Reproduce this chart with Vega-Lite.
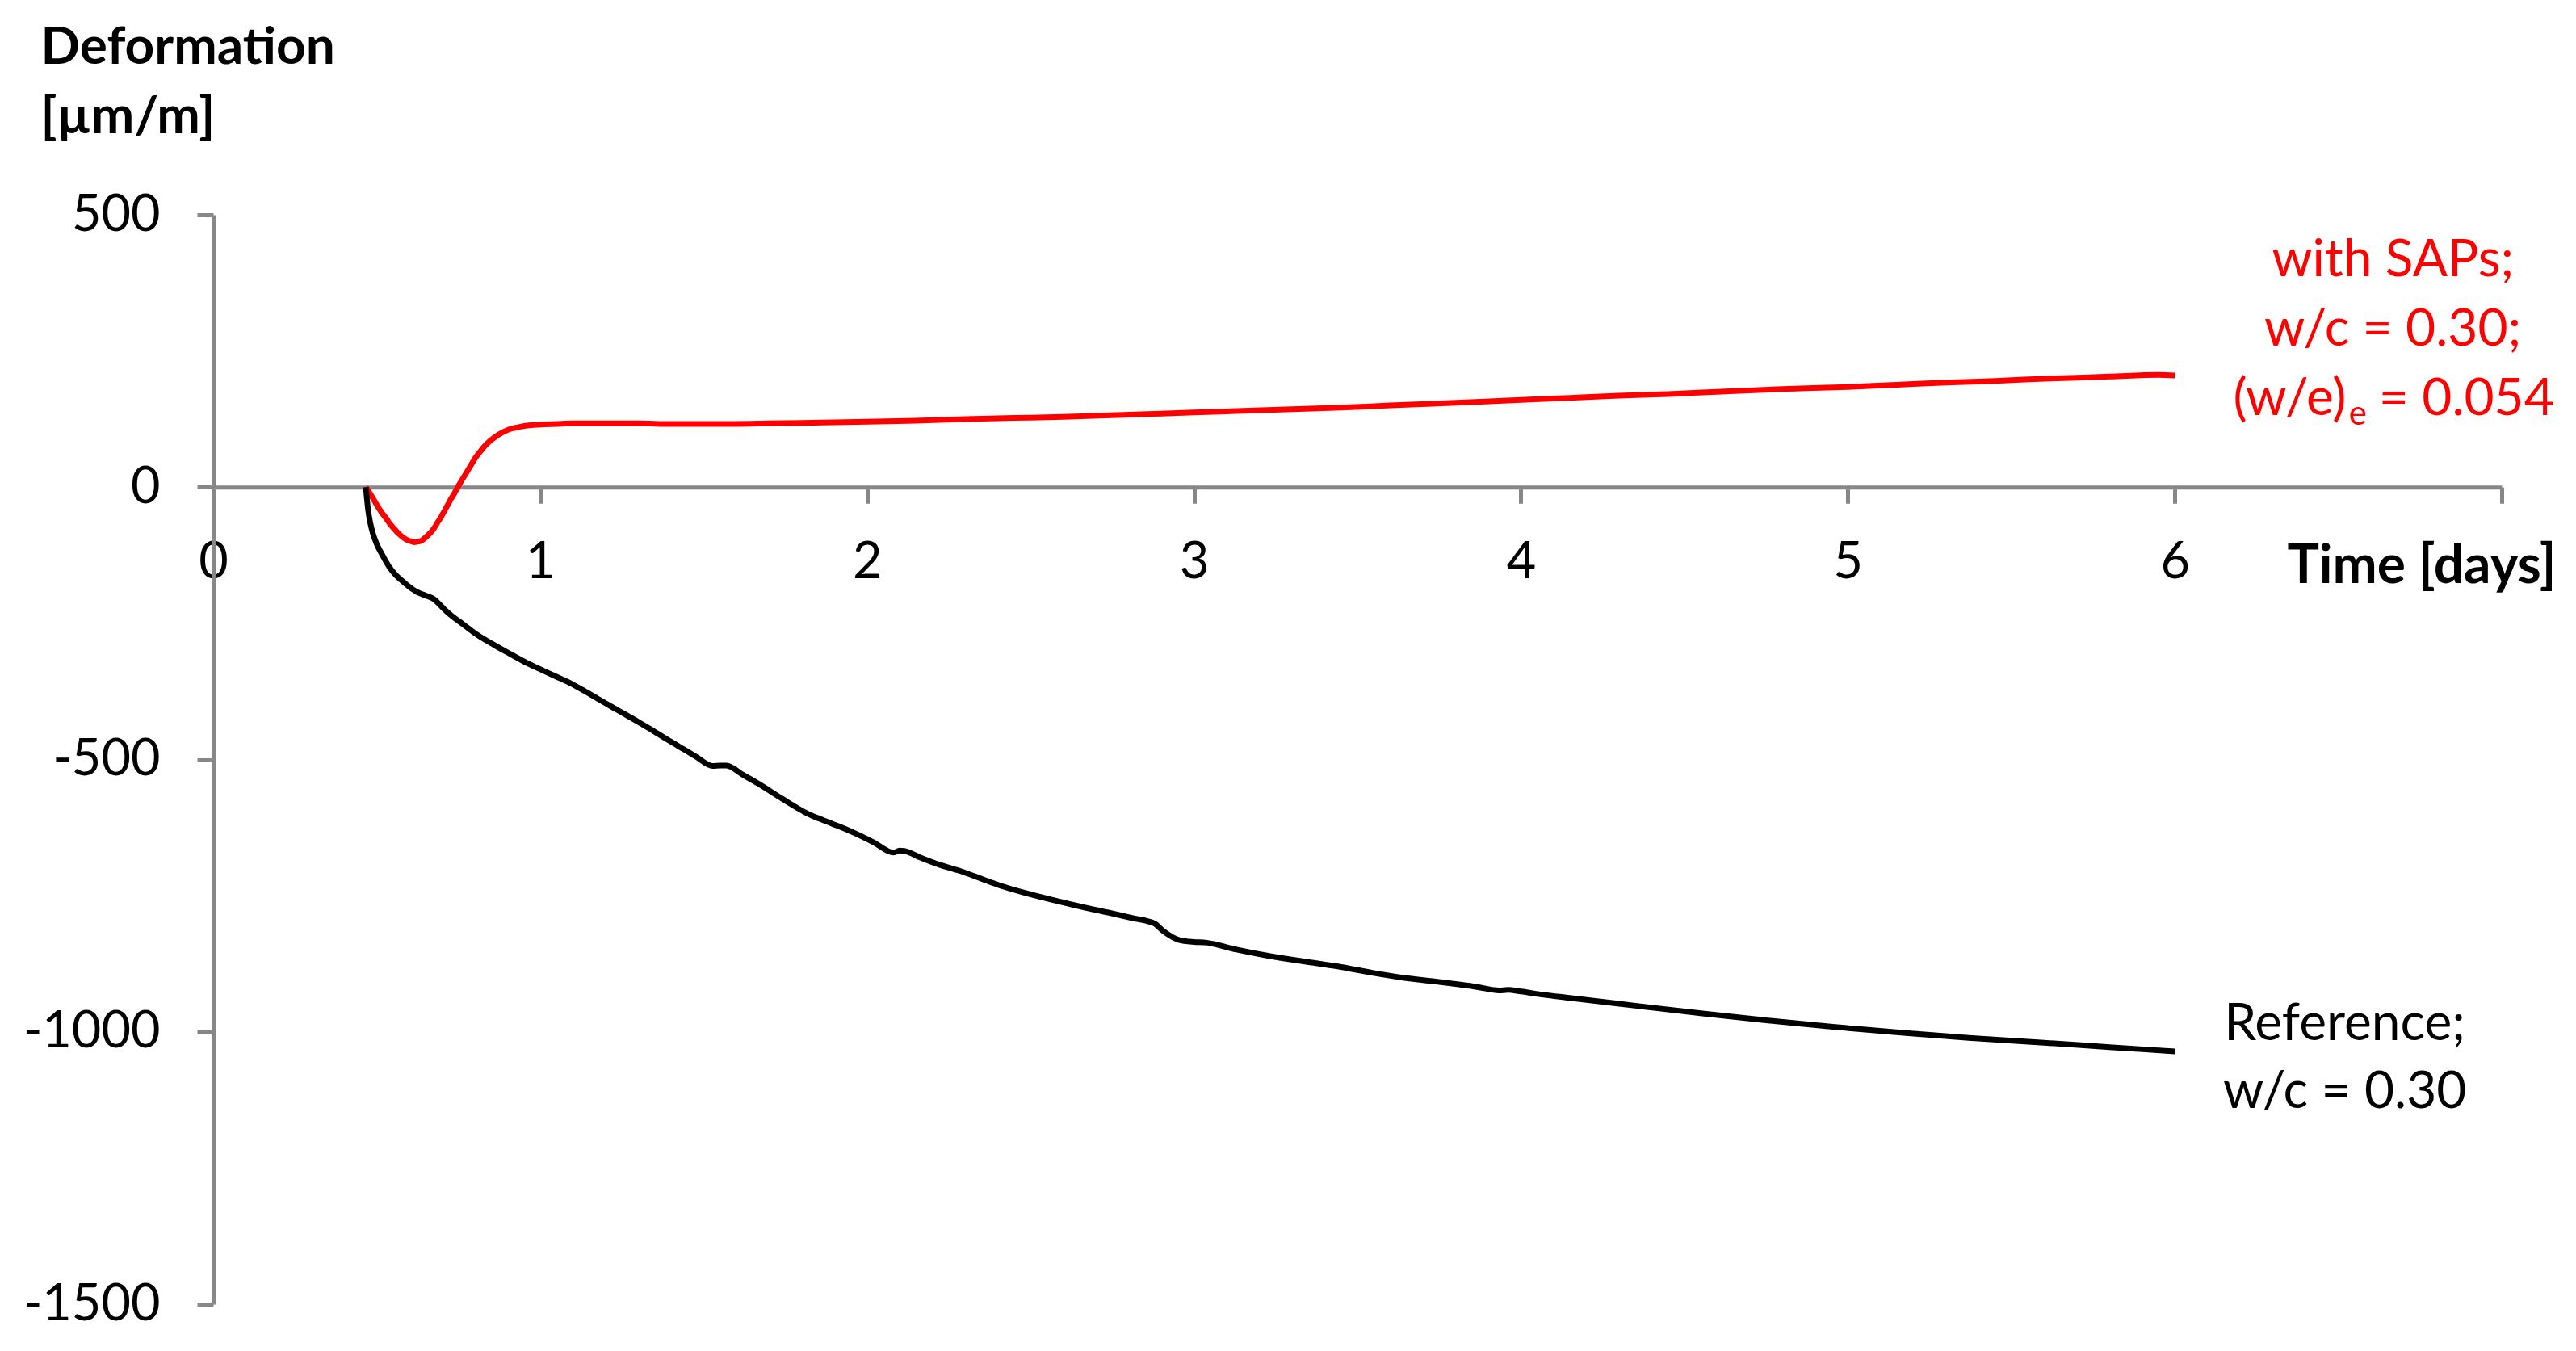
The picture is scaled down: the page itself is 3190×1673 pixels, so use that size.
{
  "$schema": "https://vega.github.io/schema/vega-lite/v6.json",
  "width": 2834,
  "height": 1349,
  "autosize": {"type": "none"},
  "padding": {"left": 264, "top": 266, "right": 92, "bottom": 58},
  "background": "white",
  "config": {"view": {"stroke": null}, "font": "Lato"},
  "encoding": {
    "x": {
      "field": "t", "type": "quantitative",
      "scale": {"domain": [0, 7], "nice": false, "zero": false},
      "axis": {
        "orient": "bottom", "offset": -1011.75,
        "values": [0, 1, 2, 3, 4, 5, 6, 7],
        "labelExpr": "datum.value == 7 ? '' : '' + datum.value",
        "domainColor": "#878787", "domainWidth": 5,
        "tickColor": "#878787", "tickWidth": 5, "tickSize": 20,
        "grid": false,
        "labelFont": "Lato", "labelFontSize": 63, "labelColor": "#000000",
        "labelPadding": 42, "labelFlush": false, "labelOverlap": false, "labelBaseline": "top",
        "title": "Time [days]", "titleFont": "Lato", "titleFontSize": 66, "titleFontWeight": "bold",
        "titleColor": "#000000", "titleAlign": "left", "titleBaseline": "alphabetic",
        "titleX": 2568, "titleY": 118
      }
    },
    "y": {
      "field": "d", "type": "quantitative",
      "scale": {"domain": [-1500, 500], "nice": false, "zero": false},
      "axis": {
        "orient": "left",
        "values": [-1500, -1000, -500, 0, 500],
        "labelExpr": "datum.value < 0 ? '-' + abs(datum.value) : '' + datum.value",
        "domainColor": "#878787", "domainWidth": 5,
        "tickColor": "#878787", "tickWidth": 5, "tickSize": 20,
        "grid": false,
        "labelFont": "Lato", "labelFontSize": 63, "labelColor": "#000000",
        "labelPadding": 46, "labelFlush": false, "labelOverlap": false,
        "title": ["Deformation", "[µm/m]"], "titleFont": "Lato", "titleFontSize": 64, "titleFontWeight": "bold",
        "titleColor": "#000000", "titleAngle": 0, "titleAlign": "left", "titleBaseline": "alphabetic",
        "titleX": -214, "titleY": -188, "titleLineHeight": 86
      }
    }
  },
  "layer": [
    {
      "data": {"values": [
        {"series": "SAP", "t": 0.467, "d": 0}, {"series": "SAP", "t": 0.48, "d": -12}, {"series": "SAP", "t": 0.49, "d": -22},
        {"series": "SAP", "t": 0.503, "d": -35}, {"series": "SAP", "t": 0.516, "d": -47}, {"series": "SAP", "t": 0.53, "d": -58},
        {"series": "SAP", "t": 0.54, "d": -67}, {"series": "SAP", "t": 0.553, "d": -76}, {"series": "SAP", "t": 0.565, "d": -84},
        {"series": "SAP", "t": 0.578, "d": -91}, {"series": "SAP", "t": 0.59, "d": -96}, {"series": "SAP", "t": 0.603, "d": -99},
        {"series": "SAP", "t": 0.615, "d": -101}, {"series": "SAP", "t": 0.628, "d": -100}, {"series": "SAP", "t": 0.64, "d": -97},
        {"series": "SAP", "t": 0.652, "d": -91}, {"series": "SAP", "t": 0.664, "d": -84}, {"series": "SAP", "t": 0.675, "d": -76},
        {"series": "SAP", "t": 0.685, "d": -66}, {"series": "SAP", "t": 0.696, "d": -56}, {"series": "SAP", "t": 0.706, "d": -45},
        {"series": "SAP", "t": 0.717, "d": -33}, {"series": "SAP", "t": 0.727, "d": -22}, {"series": "SAP", "t": 0.738, "d": -11},
        {"series": "SAP", "t": 0.748, "d": 0}, {"series": "SAP", "t": 0.762, "d": 14}, {"series": "SAP", "t": 0.775, "d": 27},
        {"series": "SAP", "t": 0.788, "d": 40}, {"series": "SAP", "t": 0.8, "d": 52}, {"series": "SAP", "t": 0.815, "d": 64},
        {"series": "SAP", "t": 0.83, "d": 75}, {"series": "SAP", "t": 0.845, "d": 84}, {"series": "SAP", "t": 0.86, "d": 91},
        {"series": "SAP", "t": 0.875, "d": 97}, {"series": "SAP", "t": 0.89, "d": 102}, {"series": "SAP", "t": 0.905, "d": 106},
        {"series": "SAP", "t": 0.924, "d": 109}, {"series": "SAP", "t": 0.94, "d": 111}, {"series": "SAP", "t": 0.96, "d": 113},
        {"series": "SAP", "t": 0.98, "d": 114}, {"series": "SAP", "t": 1.0, "d": 115}, {"series": "SAP", "t": 1.05, "d": 116},
        {"series": "SAP", "t": 1.1, "d": 117}, {"series": "SAP", "t": 1.2, "d": 117}, {"series": "SAP", "t": 1.3, "d": 117},
        {"series": "SAP", "t": 1.4, "d": 116}, {"series": "SAP", "t": 1.5, "d": 116}, {"series": "SAP", "t": 1.6, "d": 116},
        {"series": "SAP", "t": 1.7, "d": 117}, {"series": "SAP", "t": 1.8, "d": 118}, {"series": "SAP", "t": 1.9, "d": 119},
        {"series": "SAP", "t": 2.0, "d": 120}, {"series": "SAP", "t": 2.15, "d": 122}, {"series": "SAP", "t": 2.3, "d": 125},
        {"series": "SAP", "t": 2.45, "d": 127}, {"series": "SAP", "t": 2.6, "d": 129}, {"series": "SAP", "t": 2.8, "d": 133},
        {"series": "SAP", "t": 3.0, "d": 137}, {"series": "SAP", "t": 3.15, "d": 140}, {"series": "SAP", "t": 3.3, "d": 143},
        {"series": "SAP", "t": 3.45, "d": 146}, {"series": "SAP", "t": 3.6, "d": 150}, {"series": "SAP", "t": 3.8, "d": 155},
        {"series": "SAP", "t": 4.0, "d": 160}, {"series": "SAP", "t": 4.15, "d": 164}, {"series": "SAP", "t": 4.3, "d": 168},
        {"series": "SAP", "t": 4.45, "d": 171}, {"series": "SAP", "t": 4.6, "d": 175}, {"series": "SAP", "t": 4.8, "d": 180},
        {"series": "SAP", "t": 5.0, "d": 184}, {"series": "SAP", "t": 5.15, "d": 188}, {"series": "SAP", "t": 5.3, "d": 192},
        {"series": "SAP", "t": 5.45, "d": 195}, {"series": "SAP", "t": 5.6, "d": 199}, {"series": "SAP", "t": 5.8, "d": 203},
        {"series": "SAP", "t": 5.95, "d": 206}, {"series": "SAP", "t": 6.0, "d": 205},
        {"series": "Reference", "t": 0.467, "d": 0}, {"series": "Reference", "t": 0.47, "d": -20}, {"series": "Reference", "t": 0.474, "d": -42},
        {"series": "Reference", "t": 0.48, "d": -64}, {"series": "Reference", "t": 0.488, "d": -84}, {"series": "Reference", "t": 0.5, "d": -104},
        {"series": "Reference", "t": 0.517, "d": -124}, {"series": "Reference", "t": 0.537, "d": -145}, {"series": "Reference", "t": 0.558, "d": -161},
        {"series": "Reference", "t": 0.58, "d": -173}, {"series": "Reference", "t": 0.6, "d": -183}, {"series": "Reference", "t": 0.625, "d": -193},
        {"series": "Reference", "t": 0.65, "d": -199}, {"series": "Reference", "t": 0.674, "d": -205}, {"series": "Reference", "t": 0.7, "d": -220},
        {"series": "Reference", "t": 0.723, "d": -233}, {"series": "Reference", "t": 0.765, "d": -252}, {"series": "Reference", "t": 0.805, "d": -270},
        {"series": "Reference", "t": 0.86, "d": -290}, {"series": "Reference", "t": 0.911, "d": -307}, {"series": "Reference", "t": 0.96, "d": -323},
        {"series": "Reference", "t": 1.01, "d": -337}, {"series": "Reference", "t": 1.05, "d": -348}, {"series": "Reference", "t": 1.093, "d": -360},
        {"series": "Reference", "t": 1.135, "d": -374}, {"series": "Reference", "t": 1.175, "d": -388}, {"series": "Reference", "t": 1.215, "d": -402},
        {"series": "Reference", "t": 1.257, "d": -416}, {"series": "Reference", "t": 1.3, "d": -431}, {"series": "Reference", "t": 1.34, "d": -445},
        {"series": "Reference", "t": 1.38, "d": -460}, {"series": "Reference", "t": 1.422, "d": -475}, {"series": "Reference", "t": 1.475, "d": -494},
        {"series": "Reference", "t": 1.528, "d": -512}, {"series": "Reference", "t": 1.55, "d": -511}, {"series": "Reference", "t": 1.57, "d": -511},
        {"series": "Reference", "t": 1.62, "d": -528}, {"series": "Reference", "t": 1.669, "d": -545}, {"series": "Reference", "t": 1.74, "d": -572},
        {"series": "Reference", "t": 1.817, "d": -599}, {"series": "Reference", "t": 1.89, "d": -617}, {"series": "Reference", "t": 1.958, "d": -634},
        {"series": "Reference", "t": 2.02, "d": -652}, {"series": "Reference", "t": 2.081, "d": -671}, {"series": "Reference", "t": 2.1, "d": -667},
        {"series": "Reference", "t": 2.114, "d": -668}, {"series": "Reference", "t": 2.163, "d": -680}, {"series": "Reference", "t": 2.22, "d": -693},
        {"series": "Reference", "t": 2.286, "d": -705}, {"series": "Reference", "t": 2.35, "d": -719}, {"series": "Reference", "t": 2.41, "d": -732},
        {"series": "Reference", "t": 2.49, "d": -746}, {"series": "Reference", "t": 2.575, "d": -759}, {"series": "Reference", "t": 2.66, "d": -771},
        {"series": "Reference", "t": 2.738, "d": -781}, {"series": "Reference", "t": 2.81, "d": -791}, {"series": "Reference", "t": 2.879, "d": -801},
        {"series": "Reference", "t": 2.904, "d": -814}, {"series": "Reference", "t": 2.953, "d": -831}, {"series": "Reference", "t": 3.0, "d": -835},
        {"series": "Reference", "t": 3.035, "d": -836}, {"series": "Reference", "t": 3.13, "d": -849}, {"series": "Reference", "t": 3.233, "d": -861},
        {"series": "Reference", "t": 3.34, "d": -871}, {"series": "Reference", "t": 3.44, "d": -880}, {"series": "Reference", "t": 3.54, "d": -891},
        {"series": "Reference", "t": 3.644, "d": -901}, {"series": "Reference", "t": 3.73, "d": -907}, {"series": "Reference", "t": 3.81, "d": -913},
        {"series": "Reference", "t": 3.87, "d": -918}, {"series": "Reference", "t": 3.933, "d": -924}, {"series": "Reference", "t": 3.96, "d": -923},
        {"series": "Reference", "t": 4.0, "d": -926}, {"series": "Reference", "t": 4.07, "d": -932}, {"series": "Reference", "t": 4.138, "d": -937},
        {"series": "Reference", "t": 4.35, "d": -952}, {"series": "Reference", "t": 4.55, "d": -966}, {"series": "Reference", "t": 4.75, "d": -979},
        {"series": "Reference", "t": 4.96, "d": -991}, {"series": "Reference", "t": 5.17, "d": -1002}, {"series": "Reference", "t": 5.37, "d": -1011},
        {"series": "Reference", "t": 5.6, "d": -1020}, {"series": "Reference", "t": 5.8, "d": -1028}, {"series": "Reference", "t": 6.0, "d": -1036}
      ]},
      "mark": {"type": "line", "strokeWidth": 7, "interpolate": "monotone"},
      "encoding": {
        "color": {"field": "series", "type": "nominal", "scale": {"domain": ["Reference", "SAP"], "range": ["#000000", "#ff0000"]}, "legend": null}
      }
    },
    {
      "data": {"values": [
        {"t": 6.667, "d": 415, "label": "with SAPs;"},
        {"t": 6.667, "d": 288, "label": "w/c = 0.30;"}
      ]},
      "mark": {"type": "text", "align": "center", "baseline": "middle", "fontSize": 64, "font": "Lato", "color": "#ff0000"},
      "encoding": {"text": {"field": "label"}}
    },
    {
      "data": {"values": [{"t": 6.524, "d": 161, "label": "(w/e)"}]},
      "mark": {"type": "text", "align": "right", "baseline": "middle", "fontSize": 64, "font": "Lato", "color": "#ff0000"},
      "encoding": {"text": {"field": "label"}}
    },
    {
      "data": {"values": [{"t": 6.56, "d": 161, "label": "e"}]},
      "mark": {"type": "text", "align": "center", "baseline": "middle", "fontSize": 42, "dy": 18, "font": "Lato", "color": "#ff0000"},
      "encoding": {"text": {"field": "label"}}
    },
    {
      "data": {"values": [{"t": 6.624, "d": 161, "label": "= 0.054"}]},
      "mark": {"type": "text", "align": "left", "baseline": "middle", "fontSize": 64, "font": "Lato", "color": "#ff0000"},
      "encoding": {"text": {"field": "label"}}
    },
    {
      "data": {"values": [
        {"t": 6.52, "d": -987, "label": "Reference;"},
        {"t": 6.52, "d": -1112, "label": "w/c = 0.30"}
      ]},
      "mark": {"type": "text", "align": "center", "baseline": "middle", "fontSize": 64, "font": "Lato", "color": "#000000"},
      "encoding": {"text": {"field": "label"}}
    }
  ]
}
